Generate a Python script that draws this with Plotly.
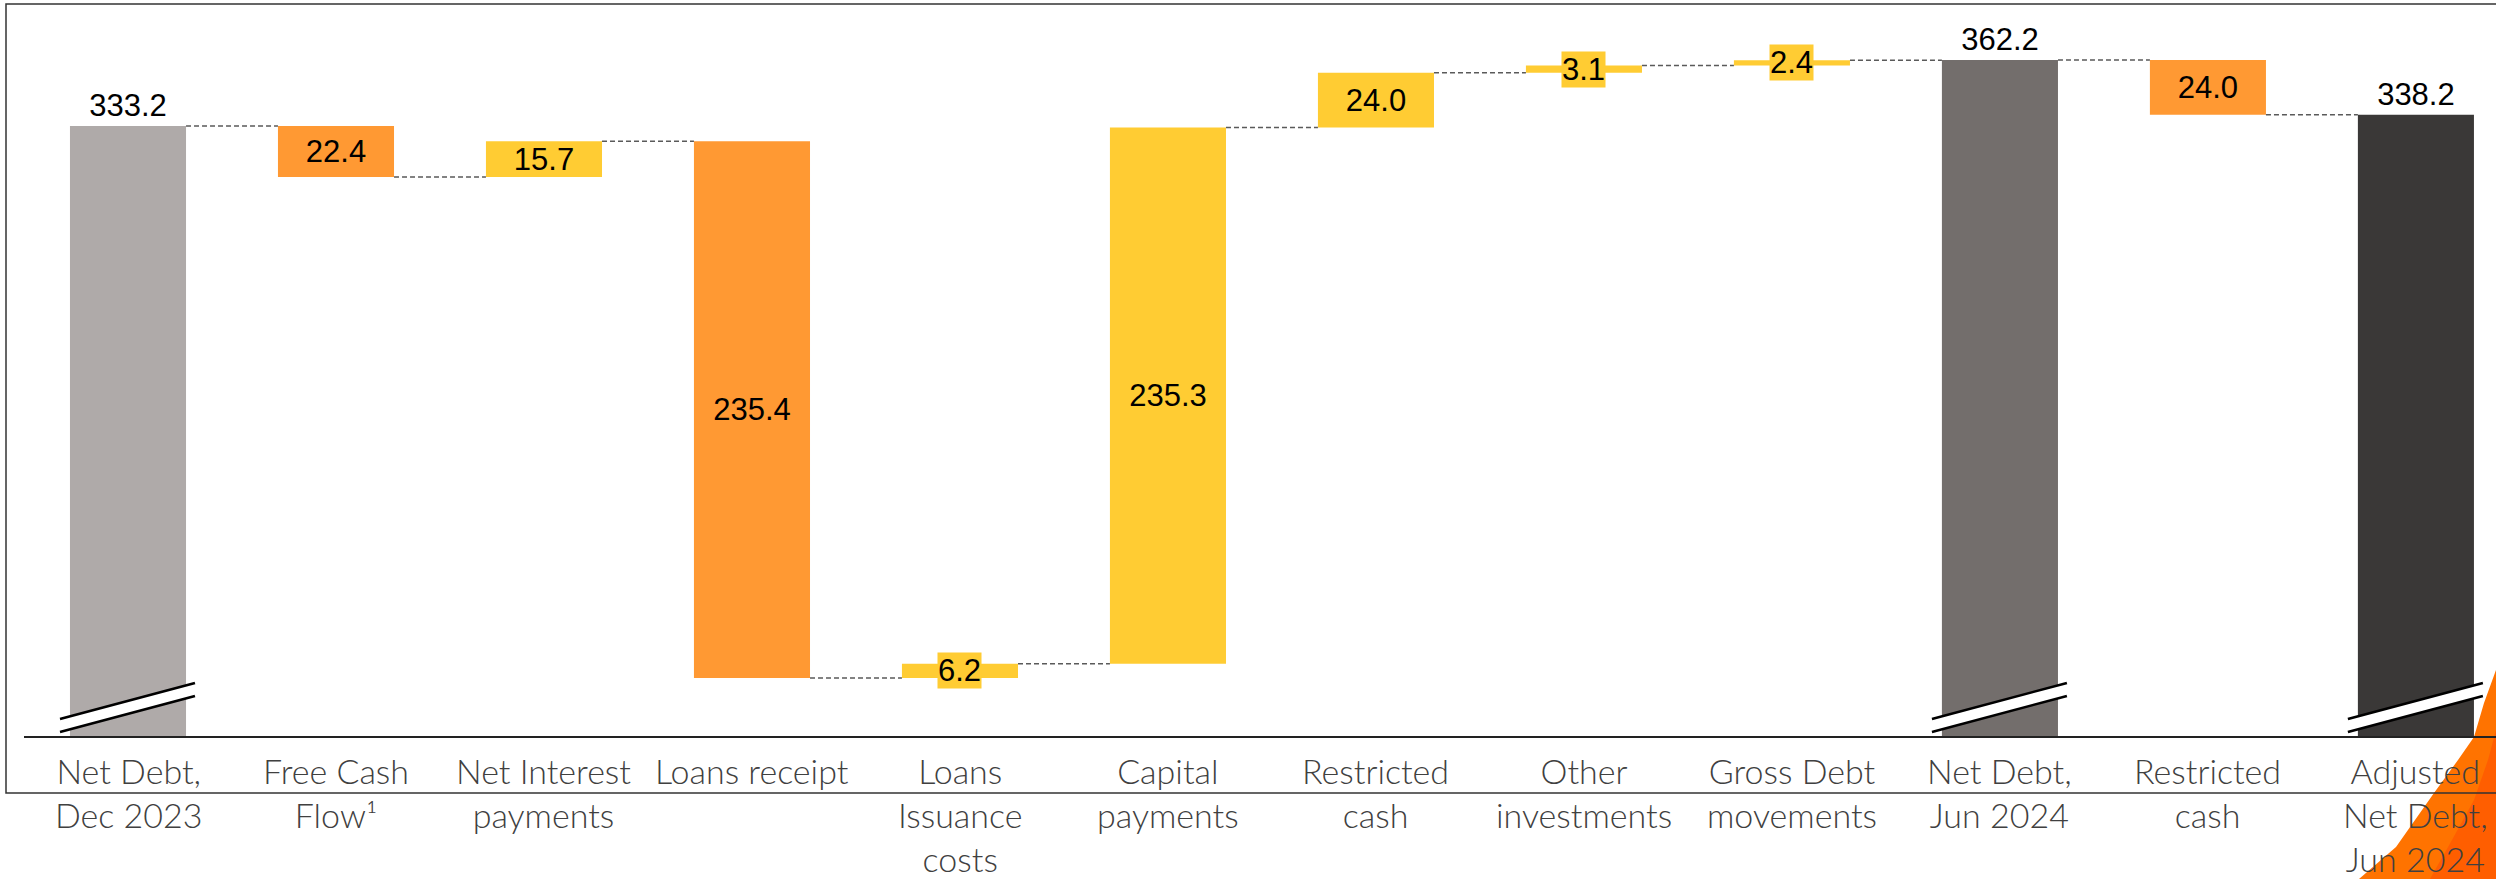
import plotly.graph_objects as go

# Net debt bridge, Dec 2023 -> Jun 2024
categories = [
    "Net Debt,<br>Dec 2023", "Free Cash<br>Flow¹", "Net Interest<br>payments", "Loans receipt",
    "Loans<br>Issuance<br>costs", "Capital<br>payments", "Restricted<br>cash", "Other<br>investments",
    "Gross Debt<br>movements", "Net Debt,<br>Jun 2024", "Restricted<br>cash", "Adjusted<br>Net Debt,<br>Jun 2024",
]
values = [333.2, -22.4, 15.7, -235.4, 6.2, 235.3, 24.0, 3.1, 2.4, 362.2, -24.0, 338.2]
measures = ["total", "relative", "relative", "relative", "relative", "relative",
            "relative", "relative", "relative", "total", "relative", "total"]

total_colors = ["#AFAAA9", "#736E6C", "#3A3837"]
up_color = "#FFCC33"
down_color = "#FF9933"

Y_RANGE = [65.2, 384.1]
BAR_W = 0.558
PX_PER_UNIT = 727 / (Y_RANGE[1] - Y_RANGE[0])


def px_to_y(py):
    return Y_RANGE[0] + (737 - py) / PX_PER_UNIT


def px_to_paper(px, py):
    return (px - 24) / 2472, (737 - py) / 727


# bars built from the running level
bases, heights, colors, texts, positions, ends = [], [], [], [], [], []
level = 0
tot_i = 0
for v, m in zip(values, measures):
    if m == "total":
        bases.append(0)
        heights.append(v)
        colors.append(total_colors[tot_i])
        tot_i += 1
        level = v
        positions.append("outside")
    else:
        bases.append(level if v > 0 else level + v)
        heights.append(abs(v))
        colors.append(up_color if v > 0 else down_color)
        level += v
        positions.append("inside")
    ends.append(level)
    texts.append(f"{abs(v):.1f}" if (m == "total" or abs(v) >= 10) else "")

x = list(range(len(values)))

fig = go.Figure()
fig.add_trace(go.Bar(
    x=x, y=heights, base=bases,
    marker_color=colors, marker_line_width=0,
    text=texts, textposition=positions, insidetextanchor="middle",
    constraintext="none", cliponaxis=False,
    textfont=dict(family="Liberation Sans, Arial", size=31, color="black"),
    width=BAR_W, hoverinfo="skip",
))

# dashed connectors
cx, cy = [], []
for i in range(len(values) - 1):
    cx += [i + BAR_W / 2, i + 1 - BAR_W / 2, None]
    cy += [ends[i], ends[i], None]
fig.add_trace(go.Scatter(
    x=cx, y=cy, mode="lines",
    line=dict(color="#5a5a5a", width=1.5, dash="5px,3px"),
    hoverinfo="skip",
))

# labels for the thin bars, with a box behind
for i, (v, m) in enumerate(zip(values, measures)):
    if m != "total" and abs(v) < 10:
        fig.add_annotation(
            x=i, y=bases[i] + heights[i] / 2, text=f"{abs(v):.1f}", showarrow=False,
            bgcolor=up_color if v > 0 else down_color, borderpad=0,
            font=dict(family="Liberation Sans, Arial", size=31, color="black"),
        )

# category labels (annotations so they sit above the orange corner)
label_top = px_to_paper(0, 749)[1]
for i, lab in enumerate(categories):
    fig.add_annotation(
        x=i, y=label_top, xref="x", yref="paper", yanchor="top", valign="top",
        text=lab, showarrow=False, borderpad=0,
        font=dict(family="Lato", weight=300, size=34, color="#404040"),
    )

shapes = []
# orange corner swoosh (two tones to hint at the gradient)
swoosh = [(2359, 879), (2396, 847), (2434, 793), (2458, 760), (2474, 737),
          (2484, 703), (2496, 670), (2496, 879)]
pts = [px_to_paper(a, b) for a, b in swoosh]
path = "M " + " L ".join(f"{p[0]},{p[1]}" for p in pts) + " Z"
shapes.append(dict(type="path", xref="paper", yref="paper", layer="above",
                   path=path, fillcolor="#FF7300", line=dict(width=0)))
inner = [(2430, 879), (2452, 840), (2474, 800), (2488, 760), (2496, 730), (2496, 879)]
pts = [px_to_paper(a, b) for a, b in inner]
path = "M " + " L ".join(f"{p[0]},{p[1]}" for p in pts) + " Z"
shapes.append(dict(type="path", xref="paper", yref="paper", layer="above",
                   path=path, fillcolor="#FF5E00", line=dict(width=0)))

# axis break marks on the total bars
for i, m in enumerate(measures):
    if m != "total":
        continue
    xa = i - BAR_W / 2 - 0.048
    xb = i + BAR_W / 2 + 0.043
    ua, ub = px_to_y(719), px_to_y(683)
    la, lb = px_to_y(732), px_to_y(696)
    shapes.append(dict(
        type="path", xref="x", yref="y", layer="above",
        path=f"M {xa},{la} L {xb},{lb} L {xb},{ub} L {xa},{ua} Z",
        fillcolor="white", line=dict(width=0),
    ))
    for ya, yb in [(ua, ub), (la, lb)]:
        shapes.append(dict(
            type="line", xref="x", yref="y", layer="above",
            x0=xa, y0=ya, x1=xb, y1=yb, line=dict(color="black", width=2.5),
        ))

# x axis line and outer frame
shapes.append(dict(type="line", xref="paper", yref="paper", layer="above",
                   x0=0, x1=1, y0=0, y1=0, line=dict(color="#222222", width=2)))
f0 = px_to_paper(6, 793)
f1 = px_to_paper(2560, 4)
shapes.append(dict(
    type="rect", xref="paper", yref="paper", layer="above",
    x0=f0[0], y0=f0[1], x1=f1[0], y1=f1[1],
    line=dict(color="#333333", width=1.5), fillcolor="rgba(0,0,0,0)",
))

fig.update_layout(
    width=2496, height=879,
    margin=dict(l=24, r=0, t=10, b=142),
    plot_bgcolor="white", paper_bgcolor="white",
    showlegend=False, bargap=1 - BAR_W,
    shapes=shapes,
)
fig.update_xaxes(range=[-0.5, 11.385], showticklabels=False, ticks="",
                 showline=False, showgrid=False, zeroline=False)
fig.update_yaxes(range=Y_RANGE, visible=False, showgrid=False, zeroline=False)

# drop the default page margin so the figure sits at the window's corner
fig.write_html("out.html", config={"displayModeBar": False},
               post_script="document.body.style.margin='0';")
